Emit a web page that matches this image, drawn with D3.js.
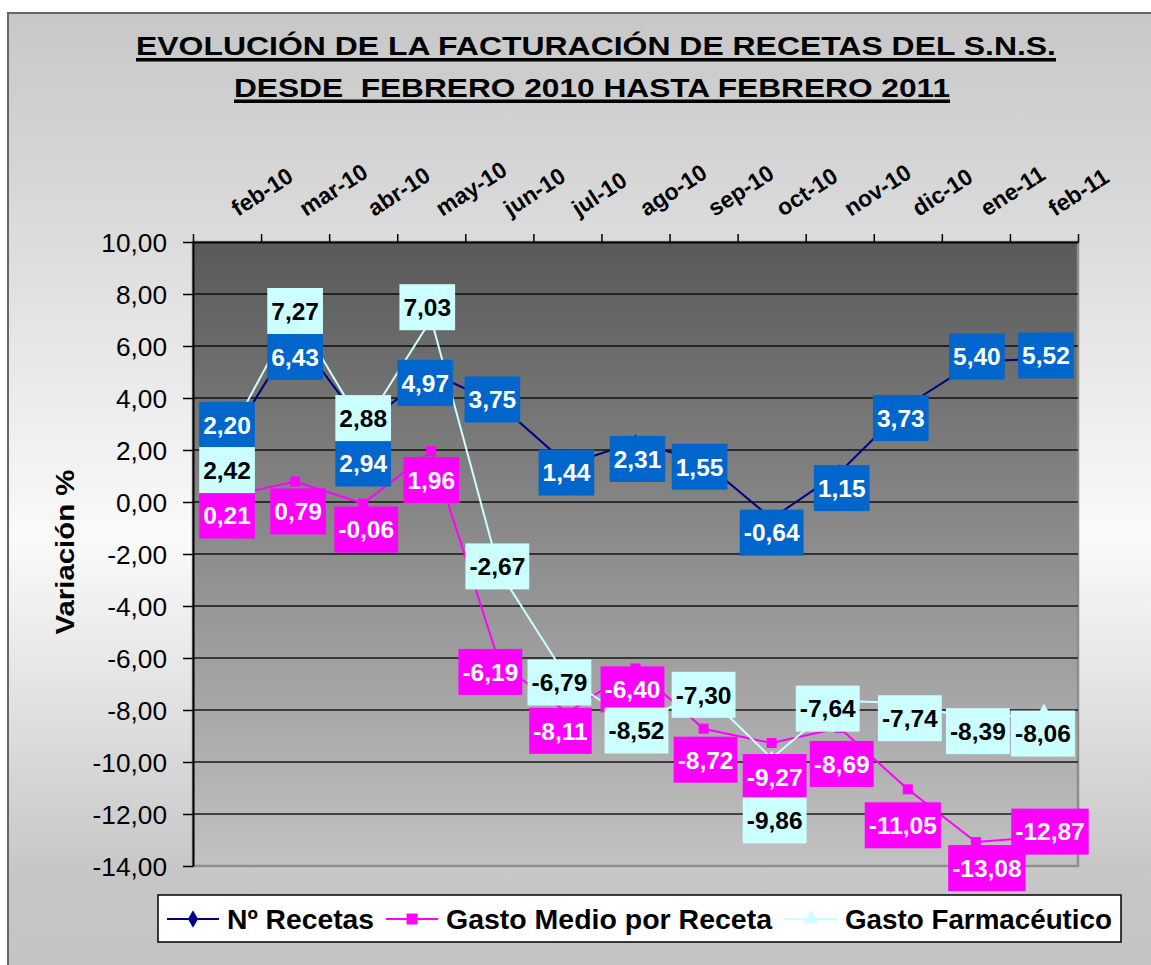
<!DOCTYPE html>
<html>
<head>
<meta charset="utf-8">
<script src="https://cdn.jsdelivr.net/npm/d3@7"></script>
<style>
  body { margin: 0; background: #fff; }
  svg { display: block; font-family: "Liberation Sans", Arial, sans-serif; }
</style>
</head>
<body>
<div id="chart"></div>
<script>
// data
var categories = ['feb-10', 'mar-10', 'abr-10', 'may-10', 'jun-10', 'jul-10', 'ago-10',
                  'sep-10', 'oct-10', 'nov-10', 'dic-10', 'ene-11', 'feb-11'];
var recetas    = [2.20, 6.43, 2.94, 4.97, 3.75, 1.44, 2.31, 1.55, -0.64, 1.15, 3.73, 5.40, 5.52];
var gastoMedio = [0.21, 0.79, -0.06, 1.96, -6.19, -8.11, -6.40, -8.72, -9.27, -8.69, -11.05, -13.08, -12.87];
var gastoFarma = [2.42, 7.27, 2.88, 7.03, -2.67, -6.79, -8.52, -7.30, -9.86, -7.64, -7.74, -8.39, -8.06];
var seriesNames = ['Nº Recetas', 'Gasto Medio por Receta', 'Gasto Farmacéutico'];
var yTicks = [10, 8, 6, 4, 2, 0, -2, -4, -6, -8, -10, -12, -14];
var titleLines = ['EVOLUCIÓN DE LA FACTURACIÓN DE RECETAS DEL S.N.S.',
                  'DESDE  FEBRERO 2010 HASTA FEBRERO 2011'];

// where each data label box sits relative to its point (dx, dy), like hand-moved labels in the sheet
var recetasLabelPos = [[0,-20],[0,22],[0,38],[-6,10],[-7,-5],[-1,8],[2,17],[-4,5],[0,14],[2,16],[-7,13],[1,-5],[2,-3]];
var medioLabelPos   = [[0,19],[3,30],[3,26],[0,29],[-9,9],[-7,18],[-3,21],[2,31],[3,34],[2,36],[-5,36],[11,26],[6,-5]];
var farmaLabelPos   = [[0,31],[0,-2],[0,-9],[-4,-12],[-2,-5],[-8,4],[1,7],[0,3],[3,62],[-12,8],[2,15],[2,11],[-1,22]];

var W = 1151, H = 965;
var plot = { left: 193, right: 1078, top: 242, bottom: 866 };

var locale = d3.formatLocale({ decimal: ',', thousands: '.', grouping: [3], currency: ['', '€'], minus: '-' });
var fmt = locale.format('.2f');

var svg = d3.select('#chart').append('svg')
    .attr('width', W)
    .attr('height', H);

var defs = svg.append('defs');

var bg = defs.append('linearGradient')
    .attr('id', 'bg')
    .attr('gradientUnits', 'userSpaceOnUse')
    .attr('x1', 0).attr('y1', 0).attr('x2', 0).attr('y2', H);
[[0, '#c6c6c6'], [0.25, '#dcdcdc'], [0.56, '#fafafa'], [0.91, '#c6c6c6'], [1, '#c4c4c4']].forEach(function (s) {
    bg.append('stop').attr('offset', s[0]).attr('stop-color', s[1]);
});

var pg = defs.append('linearGradient')
    .attr('id', 'plotbg')
    .attr('x1', 0).attr('y1', 0).attr('x2', 0).attr('y2', 1);
pg.append('stop').attr('offset', 0).attr('stop-color', '#595959');
pg.append('stop').attr('offset', 1).attr('stop-color', '#c2c2c2');

// outer frame
svg.append('rect')
    .attr('x', 8).attr('y', 13)
    .attr('width', 1160).attr('height', 1000)
    .attr('fill', 'url(#bg)')
    .attr('stroke', '#666')
    .attr('stroke-width', 2);

// title
titleLines.forEach(function (line, i) {
    var base = i === 0 ? 55 : 96.5;
    var t = svg.append('text')
        .attr('x', i === 0 ? 136 : 234)
        .attr('y', base)
        .attr('font-size', 26)
        .attr('font-weight', 'bold')
        .attr('textLength', i === 0 ? 920 : 716)
        .attr('lengthAdjust', 'spacingAndGlyphs')
        .style('white-space', 'pre')
        .text(line);
    var bb = t.node().getBBox();
    svg.append('rect')
        .attr('x', bb.x)
        .attr('y', base + 3)
        .attr('width', bb.width)
        .attr('height', 3.5)
        .attr('fill', '#000');
});

// scales
var y = d3.scaleLinear().domain([-14, 10]).range([plot.bottom, plot.top]);
var xb = d3.scaleBand().domain(categories).range([plot.left, plot.right]);
var xc = function (i) { return xb(categories[i]) + xb.bandwidth() / 2; };
var xEdge = d3.scaleLinear().domain([0, categories.length]).range([plot.left, plot.right]);

// plot area
svg.append('rect')
    .attr('x', plot.left).attr('y', plot.top)
    .attr('width', plot.right - plot.left)
    .attr('height', plot.bottom - plot.top)
    .attr('fill', 'url(#plotbg)')
    .attr('stroke', '#8e8e8e')
    .attr('stroke-width', 2.5);

// gridlines
svg.append('g')
    .selectAll('line')
    .data(yTicks.filter(function (v) { return v > -14 && v < 10; }))
    .join('line')
        .attr('x1', plot.left).attr('x2', plot.right)
        .attr('y1', function (d) { return y(d); })
        .attr('y2', function (d) { return y(d); })
        .attr('stroke', '#000')
        .attr('stroke-opacity', 0.65)
        .attr('stroke-width', 2);

// left axis
var yAxis = svg.append('g')
    .attr('transform', 'translate(' + plot.left + ',0)')
    .call(d3.axisLeft(y).tickValues(yTicks).tickSize(10).tickSizeOuter(0).tickFormat(fmt));
yAxis.select('.domain').attr('stroke', '#000').attr('stroke-width', 2);
yAxis.selectAll('.tick line').attr('stroke', '#000').attr('stroke-width', 1.5);
yAxis.selectAll('.tick text')
    .attr('x', 0)
    .attr('dy', '0.36em')
    .attr('transform', 'translate(-26,0) scale(1.05,1)')
    .attr('font-family', '"Liberation Sans", Arial, sans-serif')
    .attr('font-size', 25)
    .attr('fill', '#000');

// top axis (category axis crosses at the maximum)
var xAxis = svg.append('g')
    .attr('transform', 'translate(0,' + plot.top + ')')
    .call(d3.axisTop(xEdge).tickValues(d3.range(categories.length + 1)).tickSize(8).tickSizeOuter(0).tickFormat(''));
xAxis.select('.domain').attr('stroke', '#000').attr('stroke-width', 2);
xAxis.selectAll('.tick line').attr('stroke', '#000').attr('stroke-width', 1.5);

svg.append('g')
    .selectAll('text')
    .data(categories)
    .join('text')
        .attr('transform', function (d, i) { return 'translate(' + (xc(i) + 11) + ',217) rotate(-33)'; })
        .attr('font-size', 23)
        .attr('font-weight', 'bold')
        .text(function (d) { return d; });

// y title
svg.append('text')
    .attr('transform', 'translate(74,552) rotate(-90)')
    .attr('text-anchor', 'middle')
    .attr('font-size', 25)
    .attr('font-weight', 'bold')
    .attr('textLength', 165)
    .attr('lengthAdjust', 'spacingAndGlyphs')
    .text('Variación %');

// series
var series = [
    { name: seriesNames[0], values: recetas, line: '#000080', symbol: d3.symbolDiamond, size: 70,
      box: '#0066cc', text: '#fff', pos: recetasLabelPos },
    { name: seriesNames[1], values: gastoMedio, line: '#ff00ff', symbol: d3.symbolSquare, size: 100,
      box: '#ff00ff', text: '#fff', pos: medioLabelPos },
    { name: seriesNames[2], values: gastoFarma, line: '#ccffff', symbol: d3.symbolTriangle, size: 80,
      box: '#ccffff', text: '#000', pos: farmaLabelPos }
];

var line = d3.line()
    .x(function (d, i) { return xc(i); })
    .y(function (d) { return y(d); });

series.forEach(function (s) {
    svg.append('path')
        .datum(s.values)
        .attr('d', line)
        .attr('fill', 'none')
        .attr('stroke', s.line)
        .attr('stroke-width', 2);
    svg.append('g')
        .selectAll('path')
        .data(s.values)
        .join('path')
            .attr('d', d3.symbol().type(s.symbol).size(s.size))
            .attr('transform', function (d, i) { return 'translate(' + xc(i) + ',' + y(d) + ')'; })
            .attr('fill', s.line);
});

// data labels
series.forEach(function (s) {
    var g = svg.append('g');
    s.values.forEach(function (v, i) {
        var cx = xc(i) + s.pos[i][0];
        var cy = y(v) + s.pos[i][1];
        var lg = g.append('g');
        var r = lg.append('rect').attr('fill', s.box);
        var t = lg.append('text')
            .attr('x', cx)
            .attr('y', cy + 8.8)
            .attr('text-anchor', 'middle')
            .attr('font-size', 24.5)
            .attr('font-weight', 'bold')
            .attr('fill', s.text)
            .text(fmt(v));
        var w = t.node().getComputedTextLength() + 8;
        r.attr('x', cx - w / 2).attr('y', cy - 23).attr('width', w).attr('height', 46);
    });
});

// legend
var legend = svg.append('g');
legend.append('rect')
    .attr('x', 158).attr('y', 895)
    .attr('width', 963).attr('height', 47)
    .attr('fill', '#fff')
    .attr('stroke', '#000')
    .attr('stroke-width', 1.5);

var legendSample = [167, 386, 785];
var legendText = [[227, 147], [446, 326], [845, 267]];
series.forEach(function (s, i) {
    var x0 = legendSample[i];
    legend.append('line')
        .attr('x1', x0).attr('x2', x0 + 52)
        .attr('y1', 919).attr('y2', 919)
        .attr('stroke', s.line)
        .attr('stroke-width', 2);
    legend.append('path')
        .attr('d', d3.symbol().type(s.symbol).size(s.size + 20))
        .attr('transform', 'translate(' + (x0 + 26) + ',919)')
        .attr('fill', s.line);
    legend.append('text')
        .attr('x', legendText[i][0])
        .attr('y', 929)
        .attr('font-size', 28)
        .attr('font-weight', 'bold')
        .attr('textLength', legendText[i][1])
        .attr('lengthAdjust', 'spacingAndGlyphs')
        .text(s.name);
});
</script>
</body>
</html>
